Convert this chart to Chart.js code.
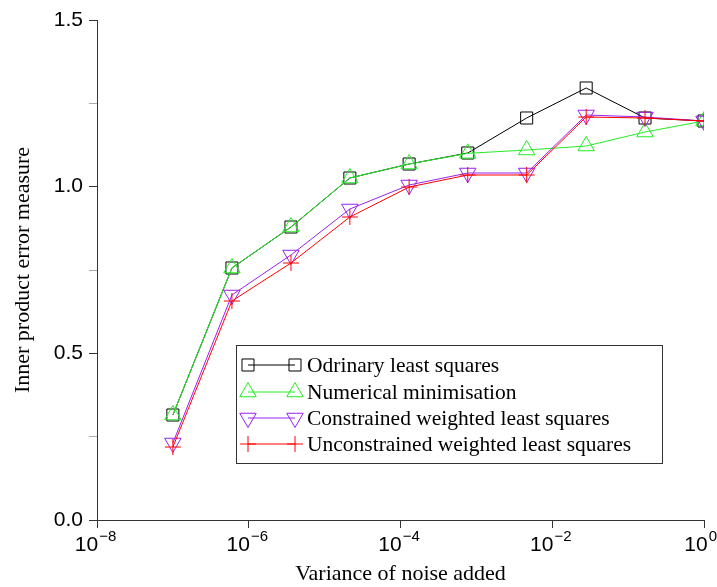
<!DOCTYPE html>
<html lang="en">
<head>
  <meta charset="UTF-8">
  <title>Inner product error measure</title>
  <script src="https://cdn.jsdelivr.net/npm/chart.js"></script>
  <style>
    html, body { margin: 0; padding: 0; background: #fff; }
    .chart-container { position: relative; width: 717px; height: 587px; }
  </style>
</head>
<body>
  <div class="chart-container">
    <canvas id="errChart" width="717" height="587"></canvas>
  </div>

  <script>
    // noise variance (x, log scale)
    const noiseVariance = [1e-7, 6e-7, 3.6e-6, 2.15e-5, 1.3e-4, 7.7e-4, 4.6e-3, 2.8e-2, 1.67e-1, 1];

    const seriesNames = [
      'Odrinary least squares',
      'Numerical minimisation',
      'Constrained weighted least squares',
      'Unconstrained weighted least squares'
    ];
    const ordinaryLS      = [0.315, 0.756, 0.879, 1.026, 1.068, 1.101, 1.206, 1.296, 1.206, 1.197];
    const numericalMin    = [0.315, 0.756, 0.879, 1.026, 1.068, 1.100, 1.110, 1.122, 1.164, 1.197];
    const constrainedWLS  = [0.231, 0.675, 0.795, 0.933, 1.005, 1.041, 1.041, 1.215, 1.209, 1.197];
    const unconstrainedWLS = [0.219, 0.657, 0.771, 0.909, 0.999, 1.035, 1.035, 1.209, 1.206, 1.197];

    const xTickValues = [1e-8, 1e-6, 1e-4, 1e-2, 1];
    const xTickExponents = ['\u22128', '\u22126', '\u22124', '\u22122', '0'];
    const yTickLabels = ['0.0', '0.5', '1.0', '1.5'];

    const colours = ['#000000', '#22ee22', '#9922ee', '#ff0000'];
    const markers = ['rect', 'triangle', 'triangle', 'cross'];
    const rotations = [0, 0, 180, 0];
    const radii = [8.5, 9.5, 9.5, 8];
    const allSeries = [ordinaryLS, numericalMin, constrainedWLS, unconstrainedWLS];

    const serif = '"Liberation Serif", "Times New Roman", serif';
    const sans = '"Liberation Sans", Arial, sans-serif';

    const datasets = allSeries.map((vals, i) => ({
      label: seriesNames[i],
      data: vals.map((v, k) => ({ x: noiseVariance[k], y: v })),
      borderColor: colours[i],
      backgroundColor: 'rgba(0,0,0,0)',
      borderWidth: 1,
      pointStyle: markers[i],
      pointRotation: rotations[i],
      pointRadius: radii[i],
      pointBorderWidth: 1,
      pointBorderColor: colours[i],
      pointBackgroundColor: 'rgba(0,0,0,0)',
      tension: 0,
      order: 3 - i   // later series on top
    }));

    // small marker painter for the legend (same shapes as chart.js points)
    function legendMarker(c, style, rot, r, x, y) {
      c.beginPath();
      if (style === 'rect') {
        const s = r * Math.SQRT1_2;
        c.rect(x - s, y - s, 2 * s, 2 * s);
      } else if (style === 'triangle') {
        const a = rot * Math.PI / 180;
        for (let k = 0; k < 3; k++) {
          const t = a + k * 2 * Math.PI / 3;
          const px = x + Math.sin(t) * r, py = y - Math.cos(t) * r;
          if (k === 0) c.moveTo(px, py); else c.lineTo(px, py);
        }
        c.closePath();
      } else {
        c.moveTo(x - r, y); c.lineTo(x + r, y);
        c.moveTo(x, y - r); c.lineTo(x, y + r);
      }
      c.stroke();
    }

    // draw superscripted x labels and the legend box
    const extrasPlugin = {
      id: 'extras',
      afterDraw(chart) {
        const c = chart.ctx;
        const xs = chart.scales.x;
        const area = chart.chartArea;
        c.save();
        c.fillStyle = '#000';
        c.textBaseline = 'alphabetic';
        c.textAlign = 'left';
        xTickValues.forEach((v, i) => {
          const px = xs.getPixelForValue(v);
          c.font = '21px ' + sans;
          const baseW = c.measureText('10').width;
          c.font = '15px ' + sans;
          const expW = c.measureText(xTickExponents[i]).width;
          let start = px - (baseW + expW) / 2 - 2;
          if (start + baseW + expW > 716) start = 716 - baseW - expW;
          c.font = '21px ' + sans;
          c.fillText('10', start, area.bottom + 31);
          c.font = '15px ' + sans;
          c.fillText(xTickExponents[i], start + baseW + 1, area.bottom + 21);
        });

        // legend
        const bx = 236, by = 345, bw = 426, bh = 118;
        c.strokeStyle = '#333';
        c.lineWidth = 1;
        c.strokeRect(bx + 0.5, by + 0.5, bw, bh);
        const rowY = [365, 392, 418, 444];
        c.font = '21.5px ' + serif;
        c.textBaseline = 'middle';
        seriesNames.forEach((name, i) => {
          const y = rowY[i];
          c.strokeStyle = colours[i];
          c.lineWidth = 1;
          c.beginPath();
          c.moveTo(248, y);
          c.lineTo(295, y);
          c.stroke();
          [248, 295].forEach(mx => legendMarker(c, markers[i], rotations[i], radii[i], mx, y));
          c.fillStyle = '#000';
          c.fillText(name, 307, y + 1);
        });
        c.restore();
      }
    };

    const ctx = document.getElementById('errChart').getContext('2d');
    new Chart(ctx, {
      type: 'line',
      data: { datasets: datasets },
      plugins: [extrasPlugin],
      options: {
        responsive: false,
        animation: false,
        devicePixelRatio: 1,
        layout: { padding: { top: 20, right: 13, bottom: 0, left: 0 } },
        plugins: {
          legend: { display: false },
          tooltip: { enabled: false }
        },
        scales: {
          x: {
            type: 'logarithmic',
            min: 1e-8,
            max: 1,
            afterBuildTicks: scale => {
              scale.ticks = xTickValues.map(v => ({ value: v }));
            },
            afterFit: scale => { scale.height = 67; },
            border: { display: true, color: '#333', width: 1 },
            grid: { drawOnChartArea: false, drawTicks: true, tickLength: 8, color: '#333' },
            ticks: { callback: () => '', maxRotation: 0, autoSkip: false },
            title: {
              display: true,
              text: 'Variance of noise added',
              color: '#000',
              font: { family: serif, size: 22 },
              padding: { top: 0, bottom: 0 }
            }
          },
          y: {
            min: 0,
            max: 1.5,
            afterBuildTicks: scale => {
              scale.ticks = [0, 0.25, 0.5, 0.75, 1, 1.25, 1.5].map(v => ({ value: v }));
            },
            afterFit: scale => { scale.width = 97; },
            border: { display: true, color: '#333', width: 1 },
            grid: {
              drawOnChartArea: false,
              drawTicks: true,
              tickLength: 8,
              color: g => (g.tick && Math.round(g.tick.value * 4) % 2 === 1) ? '#aaa' : '#333'
            },
            ticks: {
              color: '#000',
              padding: 6,
              font: { family: sans, size: 21 },
              callback: v => {
                const idx = Math.round(v * 2);
                return (Math.abs(v * 2 - idx) < 1e-9) ? yTickLabels[idx] : '';
              }
            },
            title: {
              display: true,
              text: 'Inner product error measure',
              color: '#000',
              font: { family: serif, size: 22 },
              padding: { top: 10, bottom: 0 }
            }
          }
        }
      }
    });
  </script>
</body>
</html>
